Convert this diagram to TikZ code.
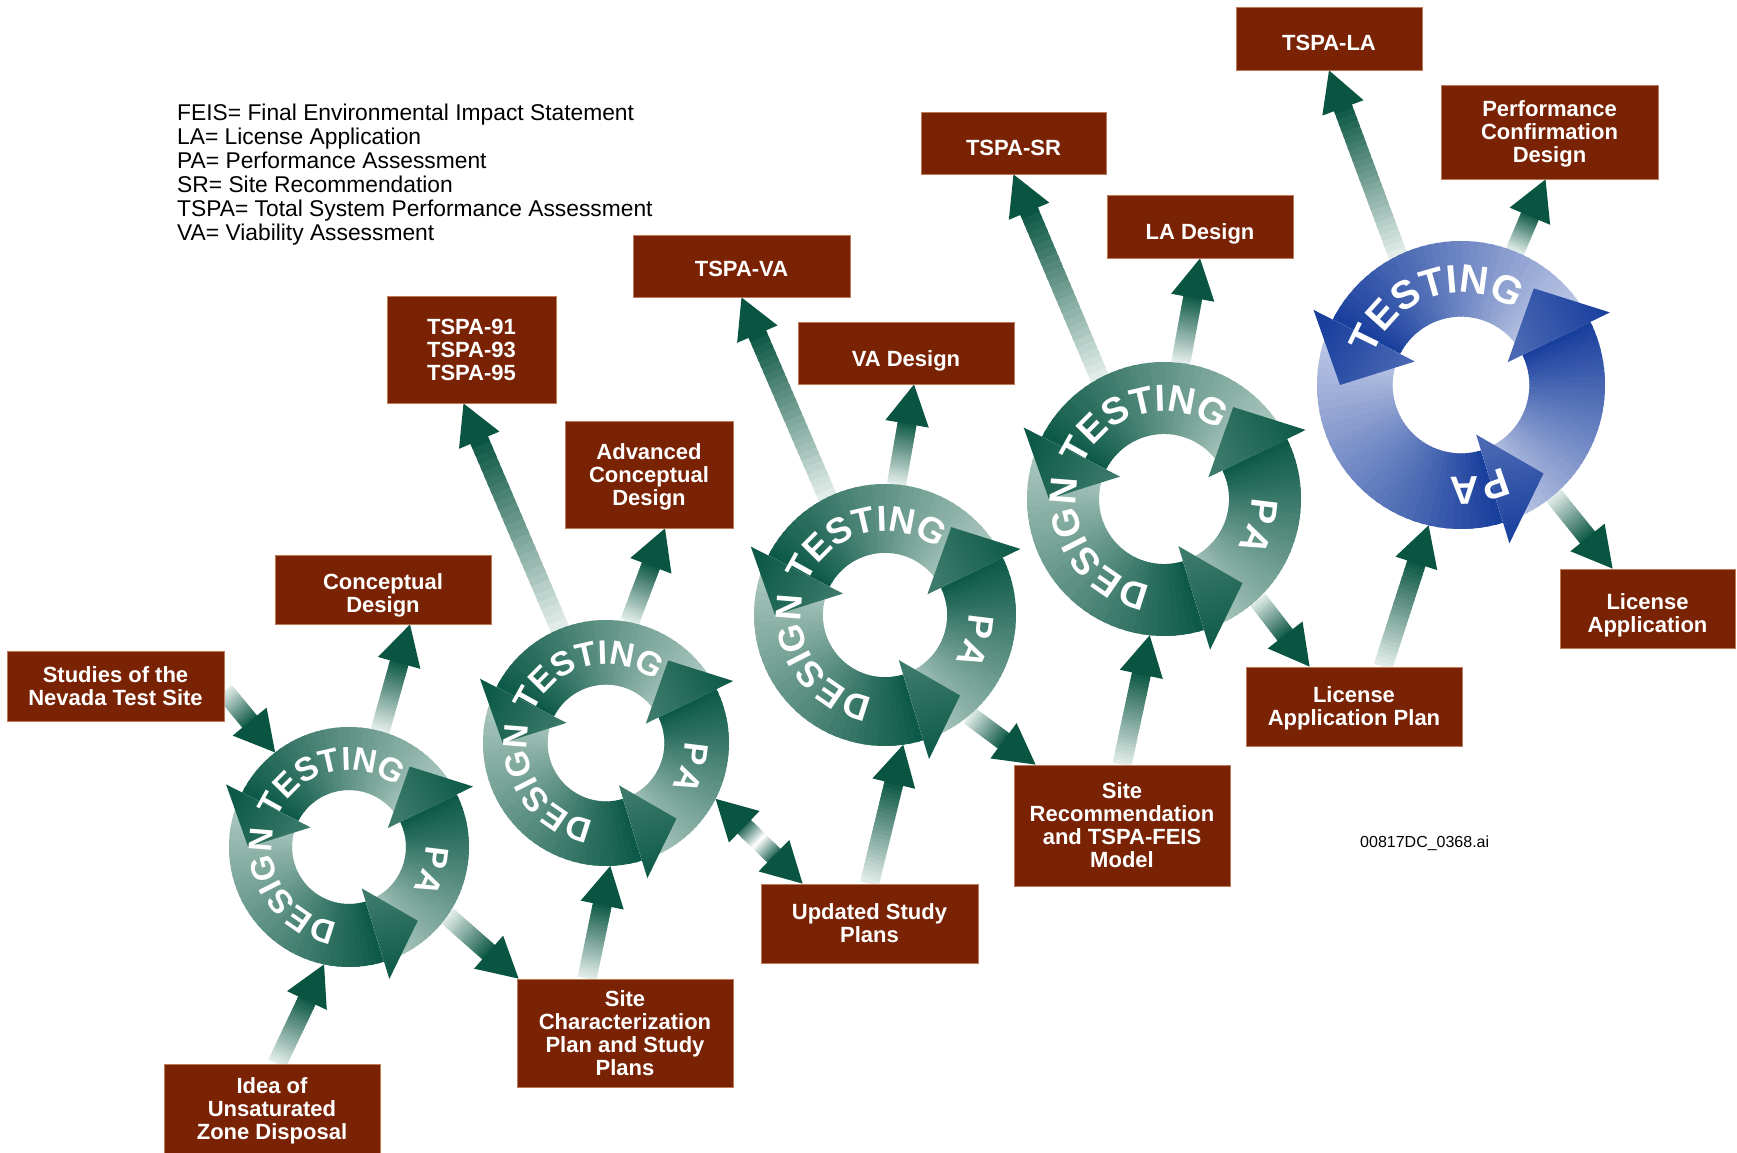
\documentclass[tikz,border=0pt]{standalone}
\usepackage{fontspec}
\setmainfont{Liberation Sans}
\setsansfont{Liberation Sans}
\usetikzlibrary{calc,decorations.text}

\definecolor{boxred}{RGB}{122,35,4}
\definecolor{boxedge}{RGB}{190,120,90}
\definecolor{gdark}{RGB}{14,90,72}
\definecolor{glight}{RGB}{178,204,196}
\definecolor{bdark}{RGB}{26,64,158}
\definecolor{blight}{RGB}{195,205,232}
\definecolor{adark}{RGB}{10,85,66}
\definecolor{alight}{RGB}{225,236,232}

\pgfdeclarelayer{bg}
\pgfdeclarelayer{back}
\pgfsetlayers{bg,back,main}

\tikzset{
  box/.style={fill=boxred, draw=boxedge, line width=0.8pt, text=white,
    font=\bfseries\fontsize{22}{23}\selectfont, align=center, inner sep=0pt,
    text depth=0pt},
  hub/.style={circle, inner sep=0pt, outer sep=0pt},
}

% invisible strut that sets the height of a box's first text line
\newcommand\boxstrut[1]{\rule{0pt}{#1}}

% one gradient run of a ring arrow body, counterclockwise from #1 to #2
\newcommand\ringbody[4]{%
  \foreach \k in {0,...,39}{%
    \pgfmathsetmacro\angA{#1+(#2-#1)*\k/40}%
    \pgfmathsetmacro\angB{min(#2,#1+(#2-#1)*(\k+1.5)/40)}%
    \pgfmathtruncatemacro\pc{100*\k/39}%
    \fill[#3!\pc!#4] (\angA:\Rin) arc[start angle=\angA,end angle=\angB,radius=\Rin]
      -- (\angB:\Rout) arc[start angle=\angB,end angle=\angA,radius=\Rout] -- cycle;
  }%
}
% arrow head of a ring arrow: base at angle #1, tip at angle #2
\newcommand\ringhead[4]{%
  \pgfmathsetmacro\shang{#1-90}%
  \shade[top color=#3, bottom color=#3!72!#4, shading angle=\shang]
    (#1:\Hin) -- (#1:\Hout) -- (#2:\Htip) -- cycle;%
}
% a ring of three circulating arrows around hub #1 of outer radius #2
\newcommand\ringcycle[4]{%
  \begin{scope}[shift={(#1)}]
    \pgfmathsetmacro\Rin{0.475*#2}%
    \pgfmathsetmacro\Rout{#2}%
    \pgfmathsetmacro\Hin{0.36*#2}%
    \pgfmathsetmacro\Hout{1.15*#2}%
    \pgfmathsetmacro\Htip{0.84*#2}%
    \ringbody{26}{153}{#3}{#4}%
    \ringbody{153}{287}{#3}{#4}%
    \ringbody{287}{386}{#3}{#4}%
    \ringhead{153}{180}{#3}{#4}%
    \ringhead{287}{313}{#3}{#4}%
    \ringhead{386}{413}{#3}{#4}%
  \end{scope}%
}
% curved white word on a ring, centred at angle #4
\newcommand\ringlabel[4]{%
  \pgfmathsetmacro\labr{0.64*#2}%
  \pgfmathsetmacro\labf{0.276*#2}%
  \path[shift={(#1)}, decorate, decoration={text along path, text color=white,
      text align=center, text={|\bfseries\fontsize{\labf}{\labf}\selectfont|#3}}]
    (#4+70:\labr) arc[start angle=#4+70, end angle=#4-70, radius=\labr];%
}
% straight shaded arrow from #1 to #2
\newcommand\flowarrow[2]{%
  \coordinate (fa-t) at (#1);
  \coordinate (fa-h) at (#2);
  \coordinate (fa-b) at ($(fa-h)!40pt!(fa-t)$);
  \coordinate (fa-s) at ($(fa-h)!37pt!(fa-t)$);
  \foreach \k in {0,...,24}{%
    \pgfmathsetmacro\fracA{\k/25}%
    \pgfmathsetmacro\fracB{min(1,(\k+1.6)/25)}%
    \pgfmathtruncatemacro\pc{100*\k/24}%
    \draw[line width=19pt, adark!\pc!alight] ($(fa-t)!\fracA!(fa-s)$) -- ($(fa-t)!\fracB!(fa-s)$);
  }%
  \fill[adark] (fa-h) -- ($(fa-b)!22pt!90:(fa-h)$) -- ($(fa-b)!22pt!-90:(fa-h)$) -- cycle;
}
% straight arrow with heads at both ends, pale in the middle
\newcommand\flowboth[2]{%
  \coordinate (fb-a) at (#1);
  \coordinate (fb-z) at (#2);
  \coordinate (fb-ab) at ($(fb-a)!40pt!(fb-z)$);
  \coordinate (fb-as) at ($(fb-a)!37pt!(fb-z)$);
  \coordinate (fb-zb) at ($(fb-z)!40pt!(fb-a)$);
  \coordinate (fb-zs) at ($(fb-z)!37pt!(fb-a)$);
  \foreach \k in {0,...,24}{%
    \pgfmathsetmacro\fracA{\k/25}%
    \pgfmathsetmacro\fracB{min(1,(\k+1.6)/25)}%
    \pgfmathtruncatemacro\pc{100*abs(2*(\k+0.5)/25-1)}%
    \draw[line width=19pt, adark!\pc!white] ($(fb-as)!\fracA!(fb-zs)$) -- ($(fb-as)!\fracB!(fb-zs)$);
  }%
  \fill[adark] (fb-a) -- ($(fb-ab)!22pt!90:(fb-a)$) -- ($(fb-ab)!22pt!-90:(fb-a)$) -- cycle;
  \fill[adark] (fb-z) -- ($(fb-zb)!22pt!90:(fb-z)$) -- ($(fb-zb)!22pt!-90:(fb-z)$) -- cycle;
}

\begin{document}
\begin{tikzpicture}[x=1pt,y=1pt]
\begin{pgfonlayer}{bg}
  \fill[white] (0,0) rectangle (1737,-1153);
\end{pgfonlayer}
\useasboundingbox (0,0) rectangle (1737,-1153);

% abbreviations
\node[anchor=north west, align=left, inner sep=0pt, font=\fontsize{22.8}{23.9}\selectfont] (legend) at (177,-104)
  {FEIS= Final Environmental Impact Statement\\
   LA= License Application\\
   PA= Performance Assessment\\
   SR= Site Recommendation\\
   TSPA= Total System Performance Assessment\\
   VA= Viability Assessment};
\node[anchor=west, inner sep=0pt, font=\fontsize{16}{18}\selectfont] (fileid) at (1360,-843) {00817DC\_0368.ai};

% cycle hubs
\node[hub, minimum size=240pt] (c1) at (349,-847) {};
\node[hub, minimum size=246pt] (c2) at (606,-743) {};
\node[hub, minimum size=262pt] (c3) at (885,-615) {};
\node[hub, minimum size=274pt] (c4) at (1164,-499) {};
\node[hub, minimum size=288pt] (c5) at (1461,-385) {};

% milestone boxes
\node[box, minimum width=217pt, minimum height=70pt] (studies) at (115.5,-686) {Studies of the\\Nevada Test Site};
\node[box, minimum width=216pt, minimum height=69pt] (concept) at (383,-589.5) {\boxstrut{22pt}Conceptual\\Design};
\node[box, minimum width=216pt, minimum height=89pt] (idea) at (272,-1108.5) {Idea of\\Unsaturated\\Zone Disposal};
\node[box, minimum width=216pt, minimum height=108pt] (sitechar) at (625,-1033) {Site\\Characterization\\Plan and Study\\Plans};
\node[box, minimum width=169pt, minimum height=107pt] (tspa91) at (471.5,-349.5) {TSPA-91\\TSPA-93\\TSPA-95};
\node[box, minimum width=168pt, minimum height=107pt] (advanced) at (649,-474.5) {Advanced\\Conceptual\\Design};
\node[box, minimum width=217pt, minimum height=62pt] (tspava) at (741.5,-266) {\boxstrut{20pt}TSPA-VA};
\node[box, minimum width=216pt, minimum height=62pt] (vadesign) at (906,-353) {\boxstrut{26pt}VA Design};
\node[box, minimum width=217pt, minimum height=79pt] (updated) at (869.5,-923.5) {Updated Study\\Plans};
\node[box, minimum width=216pt, minimum height=121pt] (siterec) at (1122,-825.5) {Site\\Recommendation\\and TSPA-FEIS\\Model};
\node[box, minimum width=185pt, minimum height=62pt] (tspasr) at (1013.5,-143) {\boxstrut{25pt}TSPA-SR};
\node[box, minimum width=186pt, minimum height=63pt] (ladesign) at (1200,-226.5) {\boxstrut{25pt}LA Design};
\node[box, minimum width=216pt, minimum height=79pt] (lap) at (1354,-706.5) {License\\Application Plan};
\node[box, minimum width=186pt, minimum height=63pt] (tspala) at (1329,-38.5) {\boxstrut{25pt}TSPA-LA};
\node[box, minimum width=217pt, minimum height=94pt] (pcd) at (1549.5,-132) {Performance\\Confirmation\\Design};
\node[box, minimum width=175pt, minimum height=79pt] (licapp) at (1647.5,-608.5) {\boxstrut{24pt}License\\Application};

% connectors between boxes and cycles
\begin{pgfonlayer}{back}
  \flowarrow{[yshift=-5pt]studies.east}{c1.128}
  \flowarrow{c1.75}{[xshift=27pt]concept.south}
  \flowarrow{[xshift=5pt]idea.north}{c1.258}
  \flowarrow{c1.-35}{[xshift=2pt]sitechar.north west}
  \flowarrow{[xshift=-38pt]sitechar.north}{c2.272}
  \flowarrow{c2.112}{[xshift=-8pt]tspa91.south}
  \flowarrow{c2.79}{[xshift=16pt]advanced.south}
  \flowboth{c2.-27}{[xshift=42pt]updated.north west}
  \flowarrow{updated.north}{c3.278}
  \flowarrow{c3.116}{tspava.south}
  \flowarrow{c3.85}{[xshift=8pt]vadesign.south}
  \flowarrow{c3.-50}{[xshift=22pt]siterec.north west}
  \flowarrow{siterec.north}{c4.264}
  \flowarrow{c4.118}{tspasr.south}
  \flowarrow{c4.83}{ladesign.south}
  \flowarrow{c4.-47}{[xshift=64pt]lap.north west}
  \flowarrow{[xshift=29pt]lap.north}{c5.257}
  \flowarrow{c5.116}{tspala.south}
  \flowarrow{c5.68}{[xshift=-4pt]pcd.south}
  \flowarrow{c5.-50}{[xshift=53pt]licapp.north west}
\end{pgfonlayer}

% the design / testing / performance assessment cycles
\ringcycle{c1}{120}{gdark}{glight}
\ringlabel{c1}{120}{TESTING}{105}
\ringlabel{c1}{120}{DESIGN}{214}
\ringlabel{c1}{120}{PA}{-16}

\ringcycle{c2}{123}{gdark}{glight}
\ringlabel{c2}{123}{TESTING}{105}
\ringlabel{c2}{123}{DESIGN}{214}
\ringlabel{c2}{123}{PA}{-16}

\ringcycle{c3}{131}{gdark}{glight}
\ringlabel{c3}{131}{TESTING}{105}
\ringlabel{c3}{131}{DESIGN}{214}
\ringlabel{c3}{131}{PA}{-16}

\ringcycle{c4}{137}{gdark}{glight}
\ringlabel{c4}{137}{TESTING}{105}
\ringlabel{c4}{137}{DESIGN}{214}
\ringlabel{c4}{137}{PA}{-16}

\ringcycle{c5}{144}{bdark}{blight}
\ringlabel{c5}{144}{TESTING}{108}
\ringlabel{c5}{144}{PA}{-80}
\end{tikzpicture}
\end{document}
